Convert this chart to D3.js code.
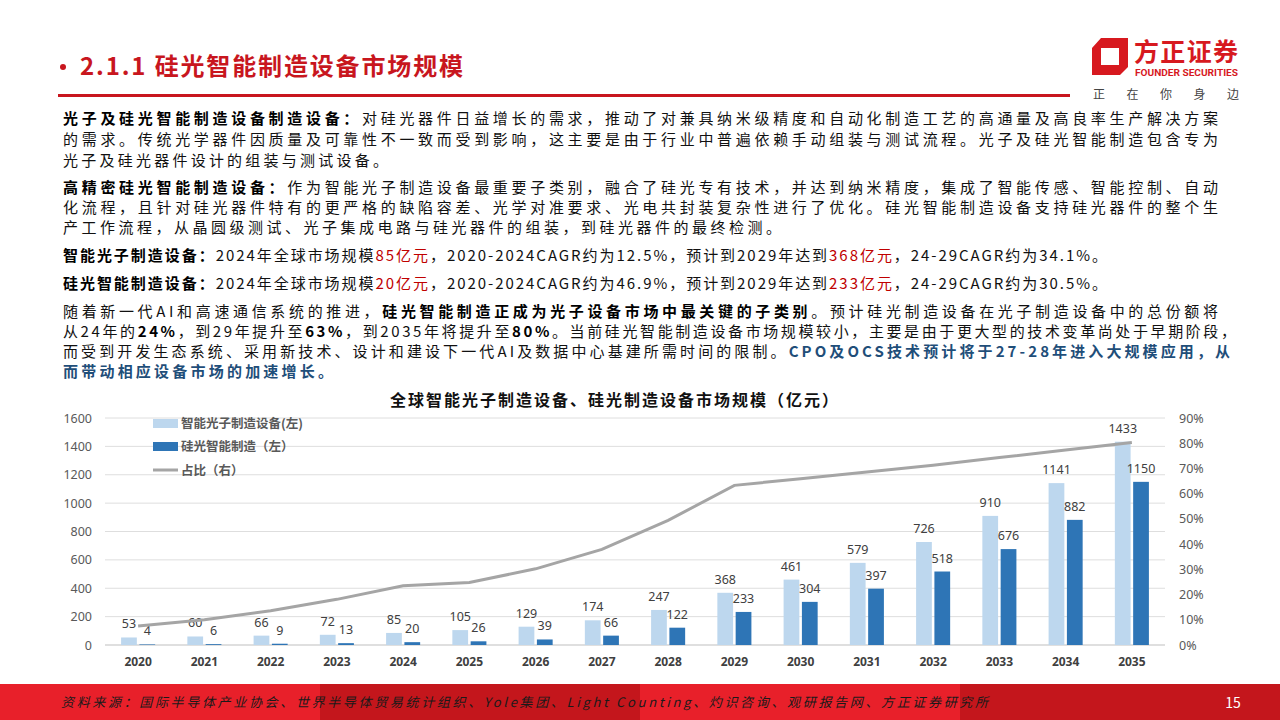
<!DOCTYPE html>
<html lang="zh">
<head>
<meta charset="UTF-8">
<title>硅光智能制造设备市场规模</title>
<script src="https://cdn.jsdelivr.net/npm/d3@7/dist/d3.min.js"></script>
<style>
    html, body { margin: 0; padding: 0; background: #fff; }
    svg { display: block; font-family: "Noto Sans CJK SC", "Noto Sans", sans-serif; }
</style>
</head>
<body>
<div id="App"></div>
<script>
    // 图表数据
    var years = ["2020","2021","2022","2023","2024","2025","2026","2027","2028","2029","2030","2031","2032","2033","2034","2035"];
    var photonic = [53,60,66,72,85,105,129,174,247,368,461,579,726,910,1141,1433];   // 智能光子制造设备(左)
    var silicon = [4,6,9,13,20,26,39,66,122,233,304,397,518,676,882,1150];             // 硅光智能制造（左）
    var share = [7.5,10.0,13.6,18.1,23.5,24.8,30.2,37.9,49.4,63.3,65.9,68.6,71.3,74.3,77.3,80.3]; // 占比（右）%
    var leftTicks = [0,200,400,600,800,1000,1200,1400,1600];
    var rightTicks = [0,10,20,30,40,50,60,70,80,90];
    var seriesNames = ["智能光子制造设备(左)", "硅光智能制造（左）", "占比（右）"];

    // 正文，每行一组 [文字, 样式]
    var bodyLines = [
        {y:124, w:1155, segs:[["光子及硅光智能制造设备制造设备：","b"],["对硅光器件日益增长的需求，推动了对兼具纳米级精度和自动化制造工艺的高通量及高良率生产解决方案","n"]]},
        {y:145, w:1155, segs:[["的需求。传统光学器件因质量及可靠性不一致而受到影响，这主要是由于行业中普遍依赖手动组装与测试流程。光子及硅光智能制造包含专为","n"]]},
        {y:166, w:325, segs:[["光子及硅光器件设计的组装与测试设备。","n"]]},
        {y:193, w:1155, segs:[["高精密硅光智能制造设备：","b"],["作为智能光子制造设备最重要子类别，融合了硅光专有技术，并达到纳米精度，集成了智能传感、智能控制、自动","n"]]},
        {y:213, w:1155, segs:[["化流程，且针对硅光器件特有的更严格的缺陷容差、光学对准要求、光电共封装复杂性进行了优化。硅光智能制造设备支持硅光器件的整个生","n"]]},
        {y:233, w:718, segs:[["产工作流程，从晶圆级测试、光子集成电路与硅光器件的组装，到硅光器件的最终检测。","n"]]},
        {y:261, w:1044, segs:[["智能光子制造设备：","b"],["2024年全球市场规模","n"],["85亿元","r"],["，2020-2024CAGR约为12.5%，预计到2029年达到","n"],["368亿元","r"],["，24-29CAGR约为34.1%。","n"]]},
        {y:289, w:1044, segs:[["硅光智能制造设备：","b"],["2024年全球市场规模","n"],["20亿元","r"],["，2020-2024CAGR约为46.9%，预计到2029年达到","n"],["233亿元","r"],["，24-29CAGR约为30.5%。","n"]]},
        {y:317, w:1155, segs:[["随着新一代AI和高速通信系统的推进，","n"],["硅光智能制造正成为光子设备市场中最关键的子类别","b"],["。预计硅光制造设备在光子制造设备中的总份额将","n"]]},
        {y:337, w:1173, segs:[["从24年的","n"],["24%","b"],["，到29年提升至","n"],["63%","b"],["，到2035年将提升至","n"],["80%","b"],["。当前硅光智能制造设备市场规模较小，主要是由于更大型的技术变革尚处于早期阶段，","n"]]},
        {y:357, w:1167, segs:[["而受到开发生态系统、采用新技术、设计和建设下一代AI及数据中心基建所需时间的限制。","n"],["CPO及OCS技术预计将于27-28年进入大规模应用，从","bl"]]},
        {y:377, w:270, segs:[["而带动相应设备市场的加速增长。","bl"]]}
    ];

    var W = 1280, H = 720;
    var red = "#c8161e";

    var svg = d3.select("#App").append("svg")
        .attr("width", W)
        .attr("height", H);

    // 按目标宽度调整字距（两端对齐）
    function fitWidth(t, w) {
        var len = t.node().getComputedTextLength();
        var n = t.text().length;
        if (n > 1) t.attr("letter-spacing", (w - len) / (n - 1));
    }

    // 页眉
    svg.append("circle")
        .attr("cx", 63).attr("cy", 67).attr("r", 3)
        .attr("fill", red);
    var title = svg.append("text")
        .attr("x", 80).attr("y", 75)
        .attr("fill", red)
        .attr("font-size", 24)
        .attr("font-weight", 700)
        .text("2.1.1 硅光智能制造设备市场规模");
    fitWidth(title, 383);
    svg.append("rect")
        .attr("x", 58).attr("y", 94)
        .attr("width", 1012).attr("height", 3)
        .attr("fill", red);

    // logo
    svg.append("path")
        .attr("d", "M1101,38 L1128,38 L1128,67 L1120,75 L1092,75 L1092,48 Z M1101,48 L1101,65 L1119,65 L1119,48 Z")
        .attr("fill", "#d7191f")
        .attr("fill-rule", "evenodd");
    svg.append("text")
        .attr("x", 1134).attr("y", 61)
        .attr("fill", "#d7191f")
        .attr("font-size", 25)
        .attr("font-weight", 700)
        .attr("textLength", 104)
        .text("方正证券");
    svg.append("text")
        .attr("x", 1135).attr("y", 76)
        .attr("fill", "#d7191f")
        .attr("font-size", 9)
        .attr("font-weight", 700)
        .attr("font-family", "Roboto, sans-serif")
        .attr("textLength", 103)
        .attr("lengthAdjust", "spacingAndGlyphs")
        .text("FOUNDER SECURITIES");
    svg.append("text")
        .attr("x", 1093).attr("y", 99)
        .attr("fill", "#444")
        .attr("font-size", 12)
        .attr("textLength", 146)
        .text("正在你身边");

    // 正文：每段文字单独成块，按整行宽度分配字距
    var styleFill = {n:"#111", b:"#000", r:"#c00000", bl:"#1f4e79"};
    var body = svg.append("g");
    bodyLines.forEach(function (ln) {
        var parts = ln.segs.map(function (s) {
            var t = body.append("text")
                .attr("y", ln.y)
                .attr("font-size", 15)
                .attr("fill", styleFill[s[1]])
                .attr("font-weight", (s[1] === "b" || s[1] === "bl") ? 700 : 400)
                .text(s[0]);
            return {t: t, len: t.node().getComputedTextLength(), n: s[0].length};
        });
        var total = d3.sum(parts, function (p) { return p.len; });
        var chars = d3.sum(parts, function (p) { return p.n; });
        var ls = (ln.w - total) / (chars - 1);
        var cx = 63;
        parts.forEach(function (p) {
            p.t.attr("x", cx).attr("letter-spacing", ls);
            cx += p.len + p.n * ls;
        });
    });

    // 图表标题
    svg.append("text")
        .attr("x", 615).attr("y", 406)
        .attr("text-anchor", "middle")
        .attr("font-size", 16)
        .attr("font-weight", 700)
        .attr("letter-spacing", 2)
        .attr("fill", "#111")
        .text("全球智能光子制造设备、硅光制造设备市场规模（亿元）");

    // 图表
    var plot = {left: 105, right: 1165, top: 418, bottom: 645};

    var x0 = d3.scaleBand()
        .domain(years)
        .range([plot.left, plot.right])
        .paddingInner(0.486)
        .paddingOuter(0.243);
    var x1 = d3.scaleBand()
        .domain(["a", "b"])
        .range([0, x0.bandwidth()])
        .paddingInner(0.14);
    var yL = d3.scaleLinear().domain([0, 1600]).range([plot.bottom, plot.top]);
    var yR = d3.scaleLinear().domain([0, 90]).range([plot.bottom, plot.top]);

    var chart = svg.append("g");

    // 网格
    chart.append("g")
        .selectAll("line")
        .data(leftTicks)
        .enter().append("line")
        .attr("x1", plot.left).attr("x2", plot.right)
        .attr("y1", function (d) { return yL(d); })
        .attr("y2", function (d) { return yL(d); })
        .attr("stroke", function (d) { return d === 0 ? "#bfbfbf" : "#dedede"; })
        .attr("stroke-width", 1);

    // 左轴
    var axL = chart.append("g")
        .attr("transform", "translate(" + (plot.left - 13) + ",0)")
        .call(d3.axisLeft(yL).tickValues(leftTicks).tickSize(0).tickPadding(0)
            .tickFormat(d3.format("d")));
    axL.select(".domain").remove();
    axL.selectAll("text")
        .attr("font-size", 12.5)
        .attr("font-family", "'Noto Sans', sans-serif")
        .attr("fill", "#595959");

    // 右轴
    var axR = chart.append("g")
        .attr("transform", "translate(" + (plot.right + 14) + ",0)")
        .call(d3.axisRight(yR).tickValues(rightTicks).tickSize(0).tickPadding(0)
            .tickFormat(function (d) { return d + "%"; }));
    axR.select(".domain").remove();
    axR.selectAll("text")
        .attr("font-size", 12.5)
        .attr("font-family", "'Noto Sans', sans-serif")
        .attr("fill", "#595959");

    // 横轴
    var axX = chart.append("g")
        .attr("transform", "translate(0," + plot.bottom + ")")
        .call(d3.axisBottom(x0).tickSize(0).tickPadding(12));
    axX.select(".domain").remove();
    axX.selectAll("text")
        .attr("font-size", 12)
        .attr("font-weight", 700)
        .attr("font-family", "'Noto Sans', sans-serif")
        .attr("fill", "#404040");

    // 柱子
    var groups = chart.append("g")
        .selectAll("g")
        .data(years)
        .enter().append("g")
        .attr("transform", function (d) { return "translate(" + x0(d) + ",0)"; });

    groups.append("rect")
        .attr("x", x1("a"))
        .attr("width", x1.bandwidth())
        .attr("y", function (d, i) { return yL(photonic[i]); })
        .attr("height", function (d, i) { return plot.bottom - yL(photonic[i]); })
        .attr("fill", "#bdd7ee");
    groups.append("rect")
        .attr("x", x1("b"))
        .attr("width", x1.bandwidth())
        .attr("y", function (d, i) { return yL(silicon[i]); })
        .attr("height", function (d, i) { return plot.bottom - yL(silicon[i]); })
        .attr("fill", "#2e75b6");

    // 折线
    var line = d3.line()
        .x(function (d, i) { return x0(years[i]) + x0.bandwidth() / 2; })
        .y(function (d) { return yR(d); });
    chart.append("path")
        .datum(share)
        .attr("d", line)
        .attr("fill", "none")
        .attr("stroke", "#a5a5a5")
        .attr("stroke-width", 3);

    // 数据标签
    groups.append("text")
        .attr("x", x1("a") + x1.bandwidth() / 2)
        .attr("y", function (d, i) { return yL(photonic[i]) - 9; })
        .attr("text-anchor", "middle")
        .attr("font-size", 12.5)
        .attr("font-family", "'Noto Sans', sans-serif")
        .attr("fill", "#404040")
        .text(function (d, i) { return photonic[i]; });
    groups.append("text")
        .attr("x", x1("b") + x1.bandwidth() / 2)
        .attr("y", function (d, i) { return yL(silicon[i]) - 9; })
        .attr("text-anchor", "middle")
        .attr("font-size", 12.5)
        .attr("font-family", "'Noto Sans', sans-serif")
        .attr("fill", "#404040")
        .text(function (d, i) { return silicon[i]; });

    // 图例
    var legend = chart.append("g").attr("transform", "translate(153,0)");
    var legY = [423, 446, 470];
    legend.append("rect").attr("x", 0).attr("y", legY[0] - 4).attr("width", 25).attr("height", 9).attr("fill", "#bdd7ee");
    legend.append("rect").attr("x", 0).attr("y", legY[1] - 4).attr("width", 25).attr("height", 9).attr("fill", "#2e75b6");
    legend.append("line").attr("x1", 0).attr("x2", 25).attr("y1", legY[2]).attr("y2", legY[2])
        .attr("stroke", "#a5a5a5").attr("stroke-width", 3);
    legend.selectAll("text.leg")
        .data(seriesNames)
        .enter().append("text")
        .attr("class", "leg")
        .attr("x", 28)
        .attr("y", function (d, i) { return legY[i] + 4.5; })
        .attr("font-size", 12.5)
        .attr("font-weight", 700)
        .attr("fill", "#595959")
        .text(function (d) { return d; });

    // 页脚
    var footColors = ["#e8202a", "#c4161c", "#e8202a", "#c4161c"];
    svg.append("g").selectAll("rect")
        .data(footColors)
        .enter().append("rect")
        .attr("x", function (d, i) { return i * 320; })
        .attr("y", 684)
        .attr("width", 320)
        .attr("height", 36)
        .attr("fill", function (d) { return d; });
    var src = svg.append("text")
        .attr("x", 61).attr("y", 707)
        .attr("font-size", 13)
        .attr("font-style", "italic")
        .attr("fill", "#1a1a1a")
        .text("资料来源：国际半导体产业协会、世界半导体贸易统计组织、Yole集团、Light Counting、灼识咨询、观研报告网、方正证券研究所");
    fitWidth(src, 927);
    svg.append("text")
        .attr("x", 1233).attr("y", 708)
        .attr("text-anchor", "middle")
        .attr("font-size", 14)
        .attr("fill", "#fff")
        .text("15");
</script>
</body>
</html>
